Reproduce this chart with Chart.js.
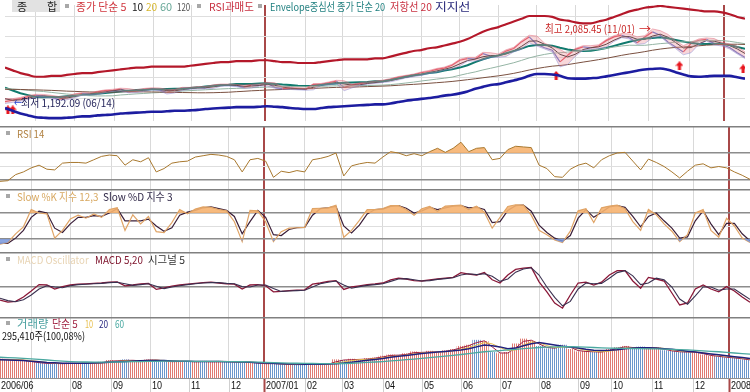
<!DOCTYPE html>
<html><head><meta charset="utf-8">
<script src="https://cdn.jsdelivr.net/npm/chart.js@4"></script>
<style>
body{margin:0;background:#fff;}
#wrap{position:relative;width:750px;height:392px;overflow:hidden;background:#fff;font-family:"Noto Sans CJK KR","Noto Sans",sans-serif;}
#wrap canvas{position:absolute;left:0;}
.t{position:absolute;font-size:11px;line-height:12px;white-space:nowrap;transform-origin:left center;}
.sq{position:absolute;width:4px;height:4px;background:#a8a8a8;}
.xl{position:absolute;font-family:"Liberation Sans",sans-serif;font-size:11px;line-height:12px;color:#111;white-space:nowrap;transform:scaleX(0.82);transform-origin:left center;}
</style></head><body>
<div id="wrap">
<canvas id="cP" width="750" height="126" style="top:0"></canvas>
<canvas id="cR" width="750" height="63" style="top:126px"></canvas>
<canvas id="cS" width="750" height="63" style="top:189px"></canvas>
<canvas id="cM" width="750" height="65" style="top:252px"></canvas>
<canvas id="cV" width="750" height="75" style="top:317px"></canvas>
</div>
<script>
// ---------- data (trading-day index, about 4 trading days per sample) ----------
const days=[0,4,8,12,16,20,24,28,32,36,40,44,48,52,56,60,64,68,72,76,80,84,88,92,96,100,104,108,112,116,120,124,128,132,136,140,144,148,152,156,160,164,168,172,176,180,184,188,192,196,200,204,208,212,216,220,224,228,232,236,240,244,248,252,256,260,264,268,272,276,280,284,288,292,296,300,304,308,312,316,320,324,328,332,336,340,344,348,352,356,360,364,368,372,376,380,384];
const monthTicks=[16,36,57,77,97,117,135,156,175,196,216,236,256,276,296,313,334,355,373];
const monthLabels=['','08','09','10','11','12','2007/01','02','03','04','05','06','07','08','09','10','11','12','2008/01'];
const startLabel='2006/06';
const yearTicks=[135,373];

const close=[1215,1232,1250,1275,1290,1280,1268,1240,1268,1298,1310,1305,1330,1345,1350,1365,1330,1345,1362,1370,1355,1325,1355,1375,1372,1385,1380,1405,1415,1410,1405,1385,1415,1410,1435,1385,1370,1375,1365,1360,1420,1420,1440,1460,1385,1415,1430,1440,1450,1460,1480,1505,1520,1535,1560,1575,1600,1615,1650,1710,1730,1725,1790,1760,1765,1820,1850,1930,1990,1900,1860,1830,1690,1770,1840,1870,1860,1880,1945,1990,2010,1980,1920,1990,2050,2010,1930,1870,1810,1910,1950,1960,1910,1897,1863,1800,1745];
const priceHigh=[1250,1250,1265,1288,1302,1300,1290,1275,1278,1308,1322,1320,1340,1355,1362,1375,1370,1355,1372,1380,1378,1362,1362,1385,1385,1395,1395,1415,1425,1425,1420,1412,1422,1425,1445,1440,1392,1385,1382,1375,1428,1432,1450,1470,1465,1422,1440,1450,1460,1472,1490,1515,1530,1545,1570,1588,1612,1628,1662,1722,1745,1745,1805,1800,1785,1835,1865,1945,2010,2000,1915,1875,1840,1785,1852,1885,1885,1895,1958,2005,2030,2025,1990,2005,2085,2065,2020,1945,1885,1925,1965,1978,1970,1925,1905,1875,1810];
const priceLow=[1192,1205,1220,1240,1265,1268,1255,1230,1235,1260,1290,1295,1298,1322,1338,1342,1320,1322,1338,1352,1345,1305,1318,1348,1362,1365,1370,1372,1398,1400,1395,1375,1378,1400,1402,1375,1360,1360,1355,1350,1355,1410,1412,1432,1345,1378,1408,1422,1432,1442,1452,1472,1498,1512,1528,1550,1565,1590,1605,1642,1700,1700,1715,1745,1745,1755,1810,1840,1920,1880,1845,1810,1630,1660,1760,1830,1845,1850,1870,1935,1980,1965,1900,1910,1980,1995,1915,1850,1775,1800,1900,1940,1895,1880,1845,1785,1730];
const ma10=[1248,1231,1236,1256,1276,1283,1277,1259,1257,1274,1297,1306,1316,1331,1344,1355,1348,1343,1349,1362,1362,1346,1343,1357,1370,1378,1380,1391,1404,1411,1409,1398,1401,1407,1421,1410,1389,1375,1370,1365,1385,1408,1428,1444,1426,1412,1415,1431,1442,1452,1466,1486,1506,1523,1542,1561,1582,1601,1626,1667,1706,1724,1752,1765,1768,1786,1821,1876,1938,1942,1902,1856,1780,1750,1782,1838,1860,1870,1902,1950,1989,1994,1962,1960,2000,2022,1986,1922,1858,1862,1906,1946,1938,1915,1886,1845,1791];
const ma20=[1380,1347,1314,1292,1270,1267,1270,1270,1278,1286,1297,1297,1308,1316,1325,1336,1344,1352,1355,1363,1363,1366,1369,1369,1377,1385,1396,1404,1413,1415,1424,1424,1424,1432,1435,1426,1418,1413,1404,1402,1402,1413,1424,1432,1440,1443,1446,1448,1457,1457,1473,1493,1512,1529,1540,1556,1567,1587,1603,1622,1650,1688,1722,1749,1766,1794,1821,1849,1882,1893,1893,1885,1860,1840,1827,1821,1824,1838,1857,1882,1907,1931,1951,1970,1978,1986,1973,1953,1934,1917,1909,1906,1909,1904,1893,1868,1849];
const ma60=[1370,1365,1358,1350,1342,1335,1325,1315,1305,1298,1290,1285,1282,1283,1284,1294,1300,1307,1312,1318,1323,1327,1334,1341,1346,1351,1356,1361,1366,1370,1373,1376,1381,1384,1388,1390,1393,1395,1394,1393,1396,1398,1401,1404,1402,1403,1406,1407,1410,1412,1418,1427,1437,1448,1461,1472,1484,1495,1508,1530,1551,1570,1594,1614,1635,1657,1680,1708,1738,1761,1780,1795,1800,1808,1817,1826,1835,1841,1853,1868,1881,1890,1889,1889,1899,1909,1916,1928,1930,1935,1940,1947,1949,1946,1937,1923,1908];
const ma120=[1362,1361,1360,1357,1355,1352,1349,1345,1340,1337,1333,1330,1328,1327,1328,1332,1332,1332,1331,1330,1329,1326,1324,1323,1322,1320,1320,1321,1324,1327,1333,1338,1344,1348,1353,1356,1360,1364,1367,1369,1373,1377,1381,1385,1386,1388,1391,1394,1397,1400,1404,1410,1416,1421,1427,1434,1441,1448,1456,1466,1477,1488,1500,1512,1523,1537,1553,1572,1593,1611,1626,1639,1647,1658,1673,1688,1702,1717,1733,1751,1769,1785,1798,1813,1830,1844,1855,1864,1869,1876,1883,1891,1895,1899,1902,1902,1899];
const envUp=[1622,1589,1556,1534,1512,1512,1523,1523,1534,1545,1556,1556,1567,1578,1589,1600,1611,1622,1622,1633,1633,1633,1633,1633,1644,1655,1666,1677,1688,1688,1699,1699,1699,1710,1710,1699,1688,1688,1677,1677,1677,1688,1699,1710,1721,1721,1721,1721,1732,1732,1754,1777,1799,1821,1832,1854,1865,1887,1909,1931,1964,2008,2052,2085,2107,2141,2174,2207,2240,2240,2240,2229,2196,2185,2163,2152,2152,2174,2196,2229,2262,2295,2317,2339,2350,2361,2350,2339,2328,2317,2306,2295,2295,2284,2262,2229,2207];
const envLo=[1137,1104,1071,1049,1027,1021,1016,1016,1021,1027,1038,1038,1049,1054,1060,1071,1076,1082,1087,1093,1093,1098,1104,1104,1109,1115,1126,1131,1137,1142,1148,1148,1148,1153,1159,1153,1148,1137,1131,1126,1126,1137,1148,1153,1159,1164,1170,1175,1181,1181,1192,1209,1225,1236,1247,1258,1269,1286,1297,1313,1335,1368,1391,1413,1424,1446,1468,1490,1523,1545,1545,1540,1523,1495,1490,1490,1495,1501,1517,1534,1551,1567,1584,1600,1606,1611,1595,1567,1540,1517,1512,1517,1523,1523,1523,1506,1490];
const signalArrows=[{x:1.5,y:1115},{x:4,y:1115},{x:286,y:1528},{x:350,y:1644},{x:383,y:1606}];
const hiPoint={x:335,y:2085.45}, loPoint={x:2.5,y:1192.09};
const priceGrid=[2233,1997,1744,1501,1247];

const rsi=[28,29,38,42,48,52,46,45,55,56,56,55,60,65,67,66,52,60,57,63,42,47,55,57,58,64,66,68,67,65,60,42,60,62,58,34,43,41,44,42,60,62,65,70,36,51,54,56,55,64,72,70,66,69,66,72,77,71,77,86,72,77,78,60,62,75,80,79,78,52,47,35,34,46,52,55,48,60,66,70,71,58,45,61,56,50,42,33,43,52,54,48,50,48,42,37,31];
const stochK=[8,12,32,48,88,80,78,22,40,66,75,68,78,70,88,92,40,76,55,72,37,35,58,88,78,89,94,93,88,85,60,14,86,85,60,14,37,45,46,47,90,91,92,98,24,40,63,88,88,90,97,97,88,75,90,95,84,96,97,98,88,96,82,45,70,95,99,98,75,40,30,18,12,38,85,90,58,92,96,98,90,60,40,88,76,55,38,14,30,80,88,40,24,68,50,22,12];
const stochD=[10,10,22,40,70,84,80,45,35,55,70,70,74,72,80,90,62,62,62,66,50,38,46,75,82,86,92,94,90,86,72,32,60,86,70,30,28,42,46,47,75,90,92,95,50,34,52,78,88,89,95,97,91,80,85,93,88,92,96,97,92,93,88,58,60,86,97,98,84,52,35,22,15,28,68,88,70,82,94,97,93,72,48,72,80,62,45,22,25,62,85,55,30,56,56,32,16];
const macd=[-33,-38,-36,-25,-10,6,5,-5,1,5,7,8,9,10,12,13,3,5,8,9,-6,-2,2,5,7,9,11,12,10,8,7,-5,5,6,3,-12,-11,-9,-8,-7,7,10,14,16,-6,0,3,6,7.5,10,18,22,20,16,15,18,20,22,24,36,32,30,36,18,10,30,44,47,49,13,-12,-40,-53,-20,10,12,5,12,30,41,41,15,-3,24,20,15,-15,-45,-40,-5,5,-5,-12,1,-10,-25,-38];
const signal=[-28,-34,-37,-32,-20,-5,3,0,-2,3,6,7,8,9,11,12,8,4,6,8,2,-4,0,3,6,8,10,11,11,9,8,1,0,5,5,-4,-11,-10,-9,-8,0,8,12,15,5,-3,1,4,6,8,14,20,21,18,15,16,19,21,23,30,33,31,33,27,14,20,37,45,48,30,0,-26,-47,-36,-5,10,8,9,22,36,41,28,6,10,22,18,0,-30,-43,-22,0,0,-8,-5,-5,-18,-31];
// volume in thousands of shares
const vol=[310,300,295,285,260,245,235,240,230,245,235,250,240,260,290,275,300,280,285,300,290,270,265,275,270,265,275,260,275,270,255,265,250,240,230,240,220,225,215,225,230,220,230,300,290,310,300,320,330,360,380,370,400,430,410,440,420,450,470,520,540,620,600,420,400,420,560,640,600,520,480,500,540,470,430,440,420,430,470,500,520,480,510,480,500,450,440,420,430,420,380,360,350,330,330,300,295.41];
const volMa5=[305,305,298,290,272,252,240,238,235,238,240,242,245,250,275,282,288,290,282,292,295,280,268,270,272,268,270,268,268,272,262,260,258,245,235,235,230,222,220,220,228,225,225,265,295,300,305,310,325,345,370,375,385,415,420,425,430,435,460,495,530,580,610,510,410,410,490,600,620,560,500,490,520,505,450,435,430,425,450,485,510,500,495,495,490,475,445,430,425,425,400,370,355,340,330,315,298];
const volMa10=[300,302,300,295,285,270,255,245,240,238,240,240,242,246,258,270,282,287,286,288,292,288,280,275,272,270,270,270,269,270,267,263,260,254,245,240,234,228,224,222,224,224,226,245,265,285,300,305,315,330,350,362,375,395,410,420,428,432,445,470,500,540,580,560,500,450,460,540,590,580,530,500,505,510,480,455,440,430,440,465,490,500,500,495,495,485,462,445,432,428,415,392,372,355,342,328,312];
const volMa20=[300,295,290,285,275,265,255,248,242,240,240,242,245,250,258,265,272,278,283,287,288,285,280,276,273,272,270,270,270,268,266,262,258,252,246,240,235,230,228,226,225,225,228,235,245,260,275,290,305,320,340,355,370,385,400,415,425,435,445,460,480,510,540,530,510,480,490,530,560,580,560,540,520,510,490,470,455,450,455,465,480,490,495,495,490,480,470,455,440,425,410,395,380,365,350,335,320];
const volMa60=[340,335,330,322,315,305,295,285,277,270,265,262,260,260,260,262,265,268,270,272,274,275,276,276,275,274,273,272,271,270,268,266,263,260,256,252,248,245,242,240,238,237,236,236,238,242,248,255,262,270,280,290,300,310,322,335,348,360,372,385,400,415,430,440,450,460,470,480,490,500,505,510,512,512,510,505,500,495,490,488,485,482,480,478,476,474,470,466,460,452,445,438,430,420,410,400,390];

// ---------- helpers ----------
const pts=a=>days.map((d,i)=>({x:d,y:a[i]}));
const isYear=v=>yearTicks.includes(v);
function xScale(){
  return {type:'linear',min:0,max:384,offset:false,
    afterBuildTicks:s=>{s.ticks=monthTicks.map(v=>({value:v}));},
    ticks:{display:false},
    grid:{drawTicks:false,offset:false,
      color:c=>isYear(c.tick&&c.tick.value)?'#a84848':'#d9d9d9',
      lineWidth:c=>isYear(c.tick&&c.tick.value)?2:1},
    border:{display:false}};
}
function yScale(min,max,grid,dark){
  return {type:'linear',min:min,max:max,
    afterBuildTicks:s=>{s.ticks=grid.map(v=>({value:v}));},
    ticks:{display:false},
    grid:{drawTicks:false,
      color:c=>dark.includes(c.tick&&c.tick.value)?'#8c8c8c':'#dedede',
      lineWidth:c=>dark.includes(c.tick&&c.tick.value)?1.5:1},
    border:{display:false}};
}
function baseOpts(ymin,ymax,grid,dark,pad){
  return {responsive:false,animation:false,events:[],
    layout:{padding:pad||0},
    plugins:{legend:{display:false},tooltip:{enabled:false}},
    elements:{point:{radius:0,hoverRadius:0},line:{tension:0}},
    scales:{x:xScale(),y:yScale(ymin,ymax,grid,dark)}};
}
const sep={id:'sep',afterDraw(ch){const c=ch.ctx;c.save();c.strokeStyle='#808080';c.lineWidth=1.5;c.beginPath();c.moveTo(0,0.75);c.lineTo(ch.width,0.75);c.stroke();c.restore();}};
const line=(data,color,w,extra)=>Object.assign({type:'line',data:pts(data),borderColor:color,borderWidth:w,pointRadius:0,fill:false},extra||{});

function arrowImg(){
  const c=document.createElement('canvas');c.width=8;c.height=9;
  const g=c.getContext('2d');g.fillStyle='#e8161e';
  g.beginPath();g.moveTo(4,0);g.lineTo(8,4.5);g.lineTo(5.5,4.5);g.lineTo(5.5,9);g.lineTo(2.5,9);g.lineTo(2.5,4.5);g.lineTo(0,4.5);g.closePath();g.fill();
  return c;
}
function stripe(col){
  const c=document.createElement('canvas');c.width=2;c.height=2;
  const g=c.getContext('2d');g.fillStyle='#ffffff';g.fillRect(0,0,2,2);g.fillStyle=col;g.fillRect(0,0,1,2);
  return g.createPattern(c,'repeat');
}

// ---------- price panel ----------
const pChart=new Chart(document.getElementById('cP'),{
  type:'line',
  data:{datasets:[
    line(envUp,'#b4182a',2.2,{cubicInterpolationMode:'monotone'}),
    line(envLo,'#1c1ca0',2.6,{cubicInterpolationMode:'monotone'}),
    line(priceHigh,'rgba(220,90,110,0.55)',0.8),
    line(priceLow,'rgba(110,120,210,0.5)',0.8,{fill:'-1',backgroundColor:'rgba(236,140,150,0.35)'}),
    line(ma120,'#7a5040',1),
    line(ma60,'#94b4a4',1),
    line(ma20,'#117a6e',2),
    line(ma10,'#222222',1),
    line(close,'#e04a5a',1.2,{segment:{borderColor:c=>c.p1.parsed.y>=c.p0.parsed.y?'#e04a5a':'#5a72d0'}}),
    {type:'line',data:signalArrows,showLine:false,pointStyle:arrowImg(),pointRadius:5,borderWidth:0}
  ]},
  options:baseOpts(982,2372,priceGrid,[])
});

// ---------- RSI ----------
new Chart(document.getElementById('cR'),{
  type:'line',
  data:{datasets:[
    line(rsi,'#a8782e',1,{fill:{target:{value:70},above:'rgba(246,178,112,0.9)',below:'rgba(0,0,0,0)'}})
  ]},
  options:baseOpts(16.7,110,[30,50,70],[30,70]),
  plugins:[sep]
});

// ---------- Stochastic ----------
new Chart(document.getElementById('cS'),{
  type:'line',
  data:{datasets:[
    line(stochK,'rgba(0,0,0,0)',0,{fill:{target:{value:20},above:'rgba(0,0,0,0)',below:'rgba(120,150,220,0.85)'}}),
    line(stochK,'#e0a466',1.2,{fill:{target:{value:80},above:'rgba(246,178,112,0.9)',below:'rgba(0,0,0,0)'}}),
    line(stochD,'#3a1e38',1.2)
  ]},
  options:baseOpts(-10,135.4,[20,50,80],[20,80]),
  plugins:[sep]
});

// ---------- MACD ----------
new Chart(document.getElementById('cM'),{
  type:'line',
  data:{datasets:[
    line(signal,'#3a3050',1.1),
    line(macd,'#8a1838',1.3)
  ]},
  options:baseOpts(-75,87.5,[0],[0]),
  plugins:[sep]
});

// ---------- Volume ----------
const redPat=stripe('#e07a72'), bluePat=stripe('#6c96cc');
const volColors=close.map((c,i)=>(i===0||c>=close[i-1])?redPat:bluePat);
const axisRow={id:'axisRow',afterDraw(ch){
  const c=ch.ctx,a=ch.chartArea,xs=ch.scales.x;c.save();
  monthTicks.forEach(v=>{const px=Math.round(xs.getPixelForValue(v))+0.5;
    c.strokeStyle=isYear(v)?'#a84848':'#cfcfcf';c.lineWidth=isYear(v)?2:1;
    c.beginPath();c.moveTo(px,a.bottom);c.lineTo(px,ch.height);c.stroke();});
  c.strokeStyle='#909090';c.lineWidth=1;c.beginPath();c.moveTo(0,a.bottom+0.5);c.lineTo(ch.width,a.bottom+0.5);c.stroke();
  c.restore();}};
const vChart=new Chart(document.getElementById('cV'),{
  type:'bar',
  data:{datasets:[
    {type:'line',data:pts(volMa60),borderColor:'#4aa8a0',borderWidth:1.3,pointRadius:0},
    {type:'line',data:pts(volMa20),borderColor:'#20207e',borderWidth:1.5,pointRadius:0},
    {type:'line',data:pts(volMa10),borderColor:'#e8c050',borderWidth:1,pointRadius:0},
    {type:'line',data:pts(volMa5),borderColor:'#a02040',borderWidth:1,pointRadius:0},
    {type:'bar',data:pts(vol),backgroundColor:volColors,barPercentage:1,categoryPercentage:1,grouped:false,borderWidth:0}
  ]},
  options:baseOpts(0,1000,[],[],{bottom:14}),
  plugins:[sep,axisRow]
});

// ---------- texts ----------
const wrap=document.getElementById('wrap');
function txt(s,left,top,color,w){
  const e=document.createElement('span');e.className='t';e.textContent=s;
  e.style.left=left+'px';e.style.top=top+'px';e.style.color=color;wrap.appendChild(e);
  if(w){const ow=e.offsetWidth;if(ow>0)e.style.transform='scaleX('+(w/ow).toFixed(3)+')';}
  return e;
}
function sq(left,top){const e=document.createElement('div');e.className='sq';e.style.left=left+'px';e.style.top=top+'px';wrap.appendChild(e);}
// top legend
const box=document.createElement('div');
Object.assign(box.style,{position:'absolute',left:'12px',top:'0px',width:'48px',height:'12px',background:'#e2e2e2'});
wrap.appendChild(box);
txt('종',17,0,'#222',10);txt('합',47,0,'#222',10);
sq(65,4);
txt('종가 단순 5',76,0,'#d0343c',51);txt('10',132,0,'#202020',11);txt('20',146,0,'#d8b830',11);txt('60',160,0,'#68a898',12);txt('120',177,0,'#505050',13);
sq(197,4);
txt('RSI과매도',209,0,'#c83040',45);
sq(258,4);
txt('Envelope중심선 종가 단순 20',270,0,'#1f7f7f',115);txt('저항선 20',390,0,'#c83040',42);txt('지지선',435,0,'#28287a',35);
// panels
sq(6,131);txt('RSI 14',17,127,'#b08040',27);
sq(6,194);txt('Slow %K 지수 12,3',17,190,'#d8a860',81);txt('Slow %D 지수 3',103,190,'#302848',70);
sq(6,257);txt('MACD Oscillator',17,253,'#e8d4b4',72);txt('MACD 5,20',95,253,'#801830',48);txt('시그널 5',148,253,'#303030',37);
sq(6,321);txt('거래량',17,317,'#4aa0a0',31);txt('단순 5',52,317,'#a02040',26);txt('10',85,317,'#e8c050',8);txt('20',99,317,'#282880',9);txt('60',115,317,'#48a8a0',9);
txt('295,410주(100,08%)',2,329,'#111',83);

// annotations positioned through the price scales
const pxs=pChart.scales.x, pys=pChart.scales.y;
const hx=pxs.getPixelForValue(hiPoint.x), hy=pys.getPixelForValue(hiPoint.y);
txt('최고 2,085.45 (11/01)',Math.round(hx-106),Math.round(hy-7),'#c82828',90);
txt('→',Math.round(hx-12),Math.round(hy-7),'#d02020',12);
const lx=pxs.getPixelForValue(loPoint.x), ly=pys.getPixelForValue(loPoint.y);
txt('←',Math.round(lx+4),Math.round(ly-7),'#2040d0',8);
txt('최저 1,192.09 (06/14)',Math.round(lx+11),Math.round(ly-7),'#24245a',94);

// x-axis labels through the volume x scale
const vxs=vChart.scales.x, rowTop=317+vChart.chartArea.bottom+1;
const sl=document.createElement('span');sl.className='xl';sl.textContent=startLabel;sl.style.left=(vxs.getPixelForValue(0)+1)+'px';sl.style.top=rowTop+'px';wrap.appendChild(sl);
monthTicks.forEach((v,k)=>{if(!monthLabels[k])return;const e=document.createElement('span');e.className='xl';e.textContent=monthLabels[k];e.style.left=(Math.round(vxs.getPixelForValue(v))+2)+'px';e.style.top=rowTop+'px';wrap.appendChild(e);});
</script>
</body></html>
